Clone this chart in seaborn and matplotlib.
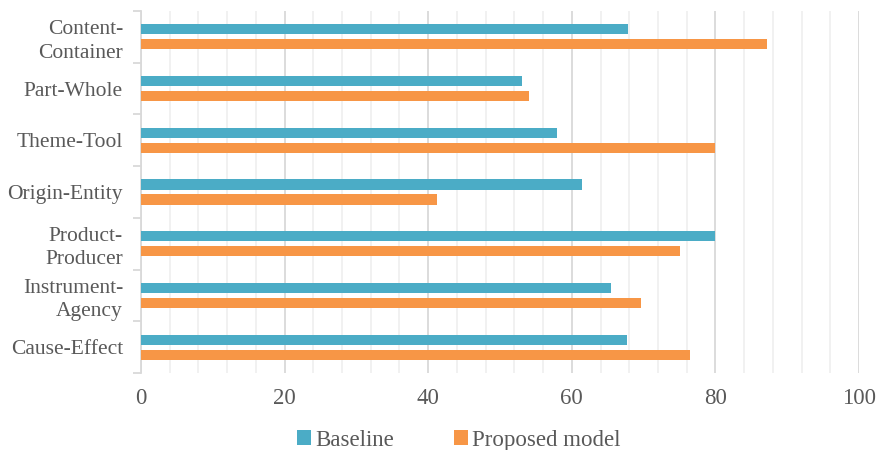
import matplotlib
matplotlib.use("Agg")
import matplotlib.pyplot as plt
from matplotlib.ticker import MultipleLocator, FixedLocator
from matplotlib.patches import Patch
import pandas as pd
import seaborn as sns

categories = ["Content-\nContainer", "Part-Whole", "Theme-Tool", "Origin-Entity",
              "Product-\nProducer", "Instrument-\nAgency", "Cause-Effect"]
baseline = [67.8, 53.0, 57.9, 61.4, 80.0, 65.4, 67.7]
proposed = [87.2, 54.0, 79.9, 41.2, 75.1, 69.7, 76.4]
series_names = ["Baseline", "Proposed model"]
colors = ["#4BACC6", "#F79646"]
x_ticks = [0, 20, 40, 60, 80, 100]

df = pd.DataFrame({
    "relation": categories * 2,
    "score": baseline + proposed,
    "series": [series_names[0]] * len(categories) + [series_names[1]] * len(categories),
})

sns.set_theme(style="white")
plt.rcParams["font.family"] = ["Liberation Serif", "DejaVu Serif"]
text_color = "#595959"

fig = plt.figure(figsize=(8.79, 4.50), dpi=100)
ax = fig.add_axes([141 / 879, 77 / 450, 718 / 879, 362 / 450])

sns.barplot(data=df, y="relation", x="score", hue="series", order=categories,
            hue_order=series_names, palette=colors, orient="h",
            width=0.58, gap=0.333, saturation=1, legend=False, ax=ax,
            edgecolor="none", zorder=3)

ax.set_xlim(0, 100)
ax.set_ylim(6.5, -0.5)
ax.xaxis.set_major_locator(FixedLocator(x_ticks))
ax.xaxis.set_minor_locator(MultipleLocator(4))
ax.grid(axis="x", which="major", color="#d9d9d9", linewidth=1.3, zorder=0)
ax.grid(axis="x", which="minor", color="#f0f0f0", linewidth=1.3, zorder=0)
ax.set_axisbelow(True)

ax.yaxis.set_minor_locator(FixedLocator([i - 0.5 for i in range(len(categories) + 1)]))
ax.tick_params(axis="y", which="major", length=0, pad=13, labelsize=15.5,
               labelcolor=text_color)
ax.tick_params(axis="y", which="minor", length=6, width=1.3, color="#d9d9d9",
               left=True)
ax.tick_params(axis="x", which="both", length=0, pad=11, labelsize=16.5,
               labelcolor=text_color)
for lbl in ax.get_yticklabels():
    lbl.set_horizontalalignment("right")
    lbl.set_multialignment("right")
    lbl.set_linespacing(1.3)

for side in ["top", "right", "bottom"]:
    ax.spines[side].set_visible(False)
ax.spines["left"].set_color("#d9d9d9")
ax.spines["left"].set_linewidth(1.3)

ax.set_xlabel("")
ax.set_ylabel("")

handles = [Patch(facecolor=c, edgecolor="none") for c in colors]
fig.legend(handles, series_names, loc="center", bbox_to_anchor=(0.522, 0.022),
           ncol=2, frameon=False, fontsize=16.5, labelcolor=text_color,
           handlelength=0.6, handleheight=0.6, handletextpad=0.2,
           columnspacing=2.6)

fig.savefig("out.png", dpi=100)
